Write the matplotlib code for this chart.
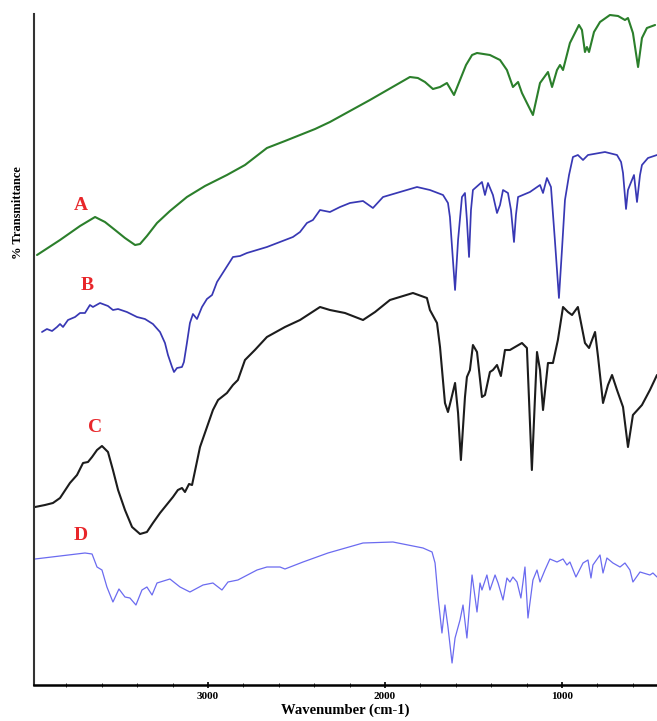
import matplotlib
matplotlib.use("Agg")
import matplotlib.pyplot as plt
from matplotlib.ticker import MultipleLocator

plt.rcParams["font.family"] = ["Liberation Serif", "DejaVu Serif"]

# ---- FTIR spectra (wavenumber in cm-1, offset transmittance in arbitrary units) ----
wn_a = [3966, 3836, 3723, 3638, 3582, 3525, 3469, 3412, 3384, 3345, 3288, 3215,
        3119, 3017, 2893, 2791, 2667, 2565, 2480, 2395, 2311, 2085, 1859, 1814,
        1774, 1729, 1689, 1650, 1610, 1576, 1542, 1508, 1480, 1407, 1350, 1311,
        1277, 1248, 1226, 1198, 1164, 1124, 1079, 1056, 1028, 1011, 994, 955,
        904, 887, 870, 859, 847, 819, 785, 729, 683, 644, 627, 599, 570, 548,
        520, 474]
t_a = [430, 445, 459, 468, 463, 455, 447, 440, 441, 449, 462, 474,
       488, 499, 510, 520, 537, 544, 550, 556, 563, 585, 608, 607,
       603, 596, 598, 602, 590, 605, 620, 630, 632, 630, 625, 615,
       598, 603, 592, 582, 570, 602, 613, 598, 615, 620, 615, 642,
       660, 655, 633, 638, 633, 653, 663, 670, 669, 665, 667, 652, 618, 647,
       657, 660]

wn_b = [3938, 3910, 3881, 3853, 3836, 3819, 3791, 3751, 3723, 3695, 3667, 3650,
        3610, 3565, 3537, 3508, 3458, 3401, 3356, 3311, 3271, 3243, 3226, 3203,
        3192, 3175, 3147, 3136, 3119, 3102, 3085, 3062, 3034, 3006, 2977, 2949,
        2859, 2819, 2780, 2667, 2520, 2480, 2441, 2407, 2367, 2311, 2254, 2198,
        2124, 2068, 2011, 1915, 1819, 1746, 1672, 1644, 1633, 1616, 1604, 1587,
        1565, 1548, 1537, 1525, 1514, 1503, 1452, 1435, 1418, 1390, 1367, 1350,
        1333, 1305, 1288, 1271, 1260, 1248, 1181, 1124, 1107, 1085, 1062, 1040,
        1017, 1000, 983, 960, 938, 910, 881, 853, 757, 689, 666, 655, 638, 627,
        616, 593, 576, 559, 548, 514, 463]
t_b = [353, 356, 354, 358, 361, 358, 365, 368, 372, 372, 380, 378,
       382, 379, 375, 376, 373, 368, 366, 361, 353, 342, 330, 318,
       313, 317, 318, 323, 342, 362, 371, 366, 378, 386, 390, 403,
       428, 429, 432, 438, 448, 453, 462, 465, 475, 473, 478, 482,
       484, 477, 488, 493, 498, 495, 490, 482, 468, 425, 395, 445,
       488, 492, 465, 428, 475, 495, 503, 490, 502, 490, 472, 480,
       495, 492, 475, 443, 470, 488, 493, 500, 492, 507, 498, 445,
       387, 435, 485, 510, 528, 530, 525, 530, 533, 530, 523, 512, 476, 495,
       500, 510, 483, 510, 520, 527, 530]

wn_c = [3977, 3921, 3876, 3836, 3780, 3740, 3706, 3678, 3655, 3627, 3599, 3565,
        3537, 3508, 3469, 3429, 3384, 3345, 3311, 3271, 3198, 3170, 3147, 3130,
        3107, 3090, 3045, 2972, 2943, 2893, 2859, 2831, 2791, 2735, 2667, 2565,
        2480, 2367, 2311, 2226, 2124, 2056, 1972, 1842, 1763, 1746, 1706, 1689,
        1661, 1644, 1627, 1604, 1587, 1571, 1548, 1537, 1520, 1503, 1480, 1452,
        1435, 1407, 1390, 1367, 1345, 1322, 1294, 1265, 1226, 1198, 1186, 1170,
        1153, 1141, 1124, 1107, 1079, 1051, 1023, 994, 966, 943, 910, 870, 847,
        813, 796, 768, 740, 717, 689, 655, 627, 599, 548, 503, 463]
t_c = [178, 180, 182, 187, 202, 210, 222, 223, 228, 235, 239, 233,
       215, 195, 175, 158, 151, 153, 162, 172, 188, 195, 197, 193,
       201, 200, 238, 275, 285, 292, 300, 305, 325, 335, 348, 358,
       365, 378, 375, 372, 365, 373, 385, 392, 387, 375, 362, 338,
       282, 273, 285, 302, 272, 225, 288, 308, 315, 340, 333, 288,
       290, 313, 315, 320, 309, 335, 335, 338, 342, 337, 285, 215,
       285, 333, 315, 275, 322, 322, 345, 378, 373, 370, 378, 342, 337,
       353, 328, 282, 300, 310, 295, 278, 238, 270, 280, 295, 310]

wn_d = [3977, 3836, 3695, 3655, 3627, 3599, 3571, 3537, 3503, 3469, 3441, 3407,
        3373, 3345, 3316, 3288, 3215, 3158, 3102, 3028, 2972, 2921, 2887, 2831,
        2723, 2667, 2593, 2565, 2463, 2322, 2124, 1955, 1785, 1734, 1717, 1700,
        1678, 1661, 1644, 1621, 1604, 1576, 1559, 1537, 1508, 1480, 1463, 1452,
        1424, 1407, 1378, 1361, 1333, 1311, 1294, 1277, 1254, 1232, 1209, 1192,
        1164, 1141, 1124, 1096, 1068, 1028, 994, 972, 955, 921, 881, 853, 836,
        825, 785, 768, 746, 712, 672, 644, 616, 599, 559, 503, 486, 463]
t_d = [126, 129, 132, 131, 118, 115, 98, 83, 96, 88, 87, 80,
       95, 98, 90, 102, 106, 98, 93, 100, 102, 95, 103, 105,
       115, 118, 118, 116, 123, 132, 142, 143, 137, 133, 122, 88,
       52, 80, 58, 22, 47, 65, 80, 47, 110, 73, 102, 95,
       110, 95, 110, 102, 85, 107, 103, 108, 103, 87, 118, 67,
       105, 115, 103, 115, 126, 123, 126, 120, 123, 108, 122, 125, 107,
       120, 130, 112, 127, 122, 118, 122, 115, 103, 113, 110, 112, 108]

labels = ["A", "B", "C", "D"]
label_pos = [(3720, 480), (3680, 400), (3640, 257), (3720, 150)]

# ---- Figure ----
fig = plt.figure(figsize=(6.57, 7.21), dpi=100)
ax = fig.add_axes([34 / 657, 1 - 685 / 721, 1 - 34 / 657, (685 - 14) / 721])

style = dict(solid_joinstyle="round", solid_capstyle="round")
ax.plot(wn_a, t_a, color="#2b7f2b", lw=1.5, **style)
ax.plot(wn_b, t_b, color="#3838b4", lw=1.25, **style)
ax.plot(wn_c, t_c, color="#1c1c1c", lw=1.5, **style)
ax.plot(wn_d, t_d, color="#6b6bf0", lw=0.9, **style)

for lab, (x, y) in zip(labels, label_pos):
    ax.text(x, y, lab, color="#e8262a", fontsize=14, fontweight="bold",
            ha="center", va="center")

ax.set_xlim(3983, 463)
ax.set_ylim(0, 671)
ax.xaxis.set_major_locator(MultipleLocator(1000))
ax.xaxis.set_minor_locator(MultipleLocator(200))
ax.tick_params(axis="x", which="major", direction="inout", length=4, width=1.2,
               labelsize=8, pad=3)
ax.tick_params(axis="x", which="minor", direction="inout", length=2.5, width=0.6)
for t in ax.get_xticklabels():
    t.set_fontweight("bold")
ax.set_yticks([])

for side in ("top", "right"):
    ax.spines[side].set_visible(False)
ax.spines["bottom"].set_linewidth(1.8)
ax.spines["left"].set_linewidth(1.5)
ax.spines["left"].set_color("#333333")

ax.set_xlabel("Wavenumber (cm-1)", fontsize=10.5, fontweight="bold", labelpad=2)
fig.text(18 / 657, 1 - 213 / 721, "% Transmittance", rotation=90, fontsize=9,
         fontweight="bold", ha="center", va="center")

fig.savefig("out.png", dpi=100, facecolor="white")
